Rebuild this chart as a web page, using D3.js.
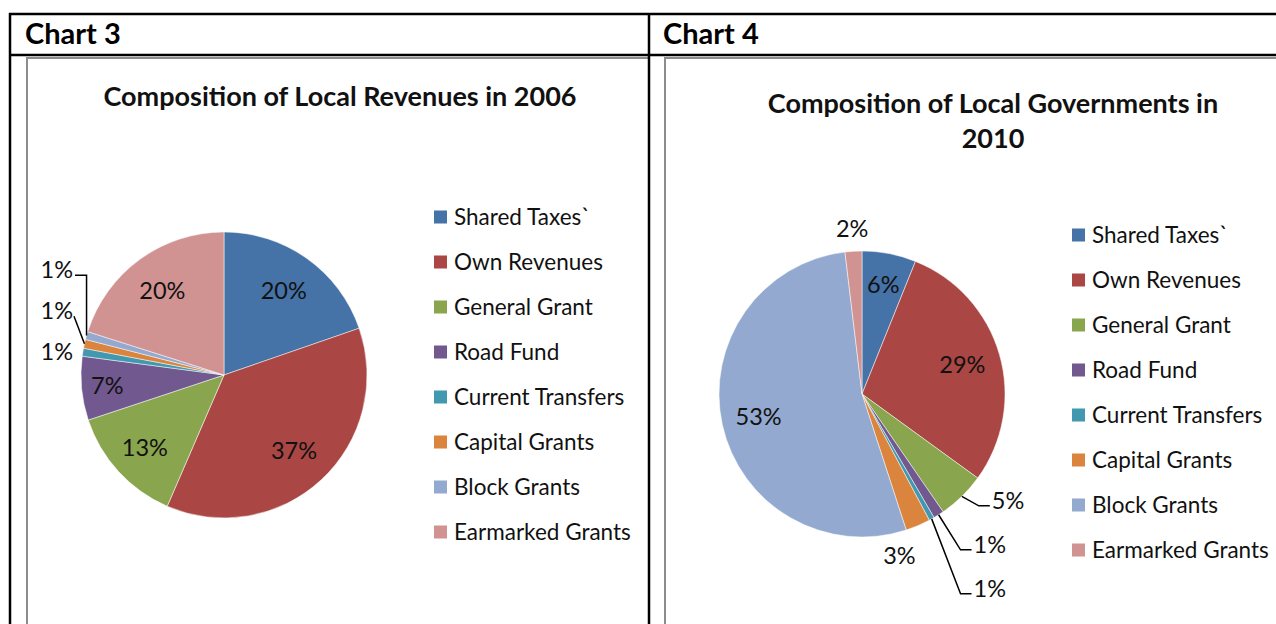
<!DOCTYPE html>
<html>
<head>
<meta charset="utf-8">
<script src="https://cdn.jsdelivr.net/npm/d3@7"></script>
<style>
  body { margin: 0; background: #fff; }
  svg { display: block; font-family: Lato, "Open Sans", sans-serif; }
</style>
</head>
<body>
<div id="chart"></div>
<script>
// data
const categories = ["Shared Taxes`", "Own Revenues", "General Grant", "Road Fund",
  "Current Transfers", "Capital Grants", "Block Grants", "Earmarked Grants"];
const colors = ["#4572A7", "#AA4643", "#89A54E", "#71588F", "#4198AF", "#DB843D", "#93A9CF", "#D19392"];
const values2006 = [19.7, 36.8, 13.4, 7.2, 0.9, 1.0, 0.9, 20.1];
const values2010 = [6.1, 28.9, 5.4, 1.2, 0.6, 2.8, 53.1, 1.9];
const panelNames = ["Chart 3", "Chart 4"];
const title2006 = ["Composition of Local Revenues in 2006"];
const title2010 = ["Composition of Local Governments in", "2010"];

const W = 1276, H = 624;
const svg = d3.select("#chart").append("svg")
    .attr("width", W)
    .attr("height", H);

function drawPie(left, values, titleLines, opts){

    const g = svg.append("g")
        .attr("transform", `translate(${left},58)`);

    // chart area frame (left + top edges, the rest runs under the table lines / off page)
    g.append("path")
        .attr("d", `M0,${H}V0H${opts.frameW}`)
        .attr("fill", "none")
        .attr("stroke", "#8c8c8c")
        .attr("stroke-width", 2);

    g.selectAll(".title")
      .data(titleLines)
      .join("text")
        .attr("class", "title")
        .attr("x", opts.titleX)
        .attr("y", (d, i) => opts.titleY + i * 35)
        .attr("dy", "0.35em")
        .attr("text-anchor", "middle")
        .attr("font-size", 27)
        .attr("font-weight", "bold")
        .attr("fill", "#111")
        .text(d => d);

    const r = 143, cx = 197, cy = opts.cy;
    const pie = d3.pie().sort(null).value(d => d)(values);
    const arc = d3.arc().innerRadius(0).outerRadius(r);
    const total = d3.sum(values);

    const pieG = g.append("g").attr("transform", `translate(${cx},${cy})`);

    pieG.selectAll("path")
      .data(pie)
      .join("path")
        .attr("d", arc)
        .attr("fill", (d, i) => colors[i])
        .attr("stroke", "#fff")
        .attr("stroke-width", 0.5);

    const pct = v => Math.round(v / total * 100) + "%";
    const mid = d => (d.startAngle + d.endAngle) / 2;
    const polar = (a, k) => [Math.sin(a) * r * k, -Math.cos(a) * r * k];

    const labels = [];
    pie.forEach((d, i) => {
        const mode = opts.place[i];
        const a = mid(d) + (opts.nudge[i] || 0) * Math.PI / 180;
        if (mode == "in"){
            const p = polar(a, opts.inK[i] || 0.74);
            labels.push({i, x: p[0], y: p[1], anchor: "middle"});
        } else if (mode == "out"){
            const p = polar(a, 1.16);
            labels.push({i, x: p[0], y: p[1], anchor: "middle"});
        } else {
            labels.push({i, mode, a, edge: polar(mid(d), 1)});
        }
    });

    // labels stacked on the left of the pie (small slices)
    const lefts = labels.filter(l => l.mode == "left").sort((p, q) => q.edge[1] - p.edge[1]);
    let prev = Infinity;
    lefts.forEach(l => {
        l.y = Math.min(l.edge[1], prev - 41);
        prev = l.y;
        l.x = -r - 8;
        l.anchor = "end";
        const dv = l.edge[1] - l.y;
        if (dv > 40) l.line = [[l.x + 2, l.y + 5], [l.edge[0], l.y + 5], l.edge];
        else if (dv > 10) l.line = [[l.x + 1, l.y + 5], l.edge];
    });

    // labels stacked on the lower right with elbow leaders
    const rights = labels.filter(l => l.mode == "right");
    if (rights.length){
        const nat = rights.map(l => polar(l.a, 1.3));
        const meanY = d3.mean(nat, p => p[1]);
        const n = rights.length;
        rights.forEach((l, k) => {
            l.y = meanY + (k - (n - 1) / 2) * 44;
            l.x = Math.max(nat[k][0], r * 0.78);
            l.anchor = "start";
            l.line = [l.edge, [l.x - 13, l.y + 5], [l.x - 2, l.y + 5]];
        });
    }

    pieG.selectAll(".leader")
      .data(labels.filter(l => l.line))
      .join("path")
        .attr("class", "leader")
        .attr("d", l => d3.line()(l.line))
        .attr("fill", "none")
        .attr("stroke", "#000")
        .attr("stroke-width", 1.5);

    pieG.selectAll(".lbl")
      .data(labels)
      .join("text")
        .attr("class", "lbl")
        .attr("x", l => l.x)
        .attr("y", l => l.y)
        .attr("dy", "0.35em")
        .attr("text-anchor", l => l.anchor)
        .attr("font-size", 23.5)
        .attr("fill", "#111")
        .text(l => pct(values[l.i]));

    // legend
    const leg = g.selectAll(".leg")
      .data(categories)
      .join("g")
        .attr("class", "leg")
        .attr("transform", (d, i) => `translate(407,${opts.legY + i * 45})`);

    leg.append("rect")
        .attr("x", 0).attr("y", -6.5)
        .attr("width", 13).attr("height", 13)
        .attr("fill", (d, i) => colors[i]);

    leg.append("text")
        .attr("x", 20)
        .attr("dy", "0.35em")
        .attr("font-size", 22.5)
        .attr("fill", "#111")
        .text(d => d);
}

drawPie(27, values2006, title2006, {
    frameW: 622, titleX: 313, titleY: 39, cy: 317, legY: 159,
    place: ["in", "in", "in", "in", "left", "left", "left", "in"],
    nudge: [], inK: [0.72, 0.72, 0.75, 0.82, 0, 0, 0, 0.73]
});

drawPie(665, values2010, title2010, {
    frameW: 640, titleX: 328, titleY: 46, cy: 336, legY: 177,
    place: ["in", "in", "right", "right", "right", "out", "in", "out"],
    nudge: [0, 0, 0, 0, 0, 10, 0, 0], inK: [0.78, 0.73, 0, 0, 0, 0, 0.74, 0]
});

// table lines on top
const table = svg.append("g").attr("stroke", "#000").attr("stroke-width", 2.5);
table.append("line").attr("x1", 9).attr("x2", W).attr("y1", 14).attr("y2", 14);
table.append("line").attr("x1", 9).attr("x2", W).attr("y1", 55).attr("y2", 55);
table.append("line").attr("x1", 10).attr("x2", 10).attr("y1", 13).attr("y2", H);
table.append("line").attr("x1", 649).attr("x2", 649).attr("y1", 13).attr("y2", H);

svg.selectAll(".panel-name")
  .data(panelNames)
  .join("text")
    .attr("class", "panel-name")
    .attr("x", (d, i) => i == 0 ? 25 : 663)
    .attr("y", 44)
    .attr("font-size", 29)
    .attr("font-weight", "bold")
    .text(d => d);
</script>
</body>
</html>
